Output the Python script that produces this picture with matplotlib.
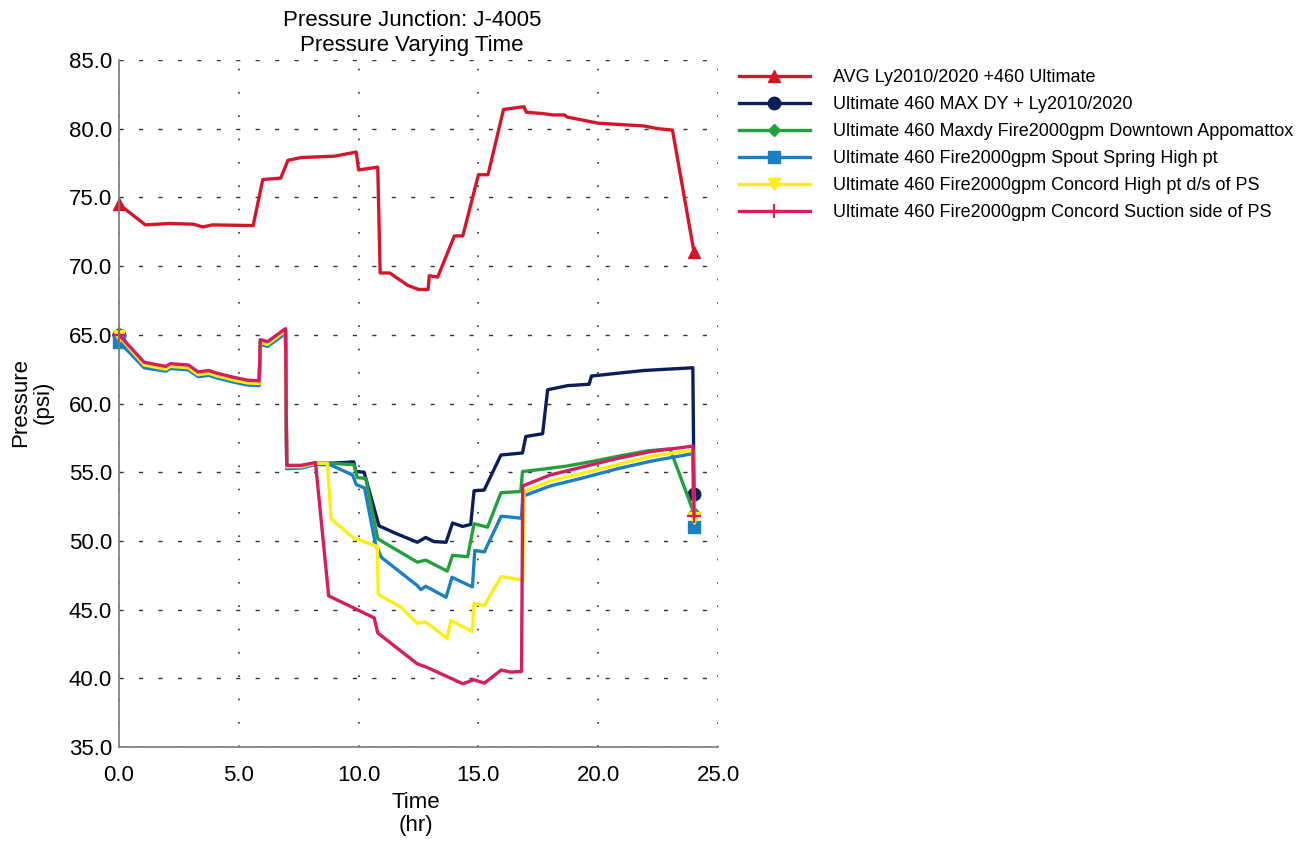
import matplotlib
matplotlib.use('Agg')
import matplotlib.pyplot as plt
from matplotlib.lines import Line2D
from matplotlib import font_manager

# --- data (time in hr, pressure in psi) ---
labels = ['AVG Ly2010/2020 +460 Ultimate',
          'Ultimate 460 MAX DY + Ly2010/2020',
          'Ultimate 460 Maxdy Fire2000gpm Downtown Appomattox',
          'Ultimate 460 Fire2000gpm Spout Spring High pt',
          'Ultimate 460 Fire2000gpm Concord High pt d/s of PS',
          'Ultimate 460 Fire2000gpm Concord Suction side of PS']

t_avg = [0, 1.1, 2.1, 3.1, 3.5, 3.9, 5.6, 6.0, 6.75, 7.05, 7.6, 9.0, 9.9, 10.0, 10.8, 10.9, 11.3,
         12.05, 12.5, 12.9, 12.95, 13.3, 14.0, 14.35, 15.0, 15.4, 16.05, 16.9, 17.0, 17.7, 18.1,
         18.6, 18.7, 20.0, 21.9, 22.5, 23.1, 24.0]
p_avg = [74.5, 73.0, 73.1, 73.05, 72.85, 73.0, 72.95, 76.3, 76.4, 77.7, 77.9, 78.0, 78.3, 77.0,
         77.2, 69.5, 69.5, 68.6, 68.3, 68.3, 69.3, 69.2, 72.2, 72.2, 76.65, 76.65, 81.4, 81.6,
         81.2, 81.1, 81.0, 81.0, 80.85, 80.4, 80.2, 80.0, 79.9, 71.0]

t_maxdy = [0, 1.05, 1.95, 2.15, 2.9, 3.3, 3.75, 4.1, 4.8, 5.35, 5.85, 5.9, 6.2, 6.95, 7.0, 7.6,
           8.2, 8.8, 9.8, 9.88, 10.23, 10.85, 11.48, 12.45, 12.8, 13.15, 13.65, 13.92, 14.34,
           14.68, 14.82, 15.24, 15.94, 16.84, 16.98, 17.68, 17.89, 18.72, 19.62, 19.72, 20.8,
           21.9, 22.9, 23.95, 24.0]
p_maxdy = [64.95, 62.9, 62.6, 62.8, 62.7, 62.2, 62.3, 62.1, 61.8, 61.6, 61.55, 64.55, 64.4, 65.35,
           55.4, 55.45, 55.65, 55.65, 55.75, 55.05, 55.0, 51.1, 50.6, 49.9, 50.25, 49.95, 49.9,
           51.3, 51.05, 51.2, 53.65, 53.7, 56.25, 56.4, 57.6, 57.8, 61.0, 61.3, 61.4, 62.0, 62.2,
           62.4, 62.5, 62.6, 53.4]

t_down = [0, 1.05, 1.95, 2.15, 2.9, 3.3, 3.75, 4.1, 4.8, 5.35, 5.85, 5.9, 6.2, 6.95, 7.0, 7.6,
          8.2, 8.8, 9.8, 9.95, 10.3, 10.8, 12.45, 12.8, 13.7, 13.92, 14.55, 14.82, 15.38, 15.94,
          16.77, 16.84, 17.6, 18.7, 19.8, 20.95, 22.05, 23.0, 24.0]
p_down = [64.95, 62.9, 62.6, 62.8, 62.7, 62.2, 62.3, 62.1, 61.8, 61.6, 61.55, 64.55, 64.4, 65.35,
          55.4, 55.45, 55.65, 55.65, 55.55, 54.6, 54.55, 50.15, 48.45, 48.6, 47.8, 48.95, 48.85,
          51.25, 51.0, 53.5, 53.6, 55.05, 55.2, 55.45, 55.8, 56.2, 56.55, 56.7, 52.0]

t_spout = [0, 1.05, 1.95, 2.15, 2.9, 3.3, 3.75, 4.1, 4.8, 5.35, 5.85, 5.9, 6.2, 6.95, 7.0, 7.6,
           8.2, 8.8, 9.75, 9.9, 10.25, 10.7, 10.95, 12.45, 12.6, 12.8, 13.65, 13.9, 14.75, 14.85,
           15.25, 15.95, 16.8, 16.85, 18.0, 19.4, 20.8, 22.2, 23.95, 24.0]
p_spout = [64.5, 62.6, 62.35, 62.55, 62.45, 61.95, 62.05, 61.85, 61.55, 61.35, 61.3, 64.3, 64.15,
           65.1, 55.25, 55.3, 55.55, 55.55, 54.8, 54.1, 53.85, 49.8, 48.8, 46.75, 46.45, 46.7,
           45.9, 47.35, 46.65, 49.3, 49.2, 51.8, 51.65, 53.25, 54.0, 54.6, 55.25, 55.8, 56.35, 51.0]

t_high = [0, 1.05, 1.95, 2.15, 2.9, 3.3, 3.75, 4.1, 4.8, 5.35, 5.85, 5.9, 6.2, 6.95, 7.0, 7.6,
          8.2, 8.7, 8.85, 9.8, 10.78, 10.82, 11.75, 12.45, 12.8, 13.7, 13.85, 14.75, 14.82, 15.25,
          15.95, 16.7, 16.85, 16.9, 18.0, 19.4, 20.8, 22.2, 23.95, 24.0]
p_high = [64.9, 62.8, 62.5, 62.7, 62.6, 62.1, 62.2, 62.0, 61.7, 61.5, 61.45, 64.45, 64.3, 65.3,
          55.4, 55.4, 55.65, 55.65, 51.6, 50.2, 49.6, 46.1, 45.2, 44.0, 44.1, 42.9, 44.2, 43.4,
          45.45, 45.3, 47.4, 47.2, 47.1, 53.6, 54.35, 54.95, 55.55, 56.15, 56.6, 51.7]

t_suct = [0, 1.05, 1.95, 2.15, 2.9, 3.3, 3.75, 4.1, 4.8, 5.35, 5.85, 5.9, 6.2, 6.95, 7.0, 7.6,
          8.2, 8.75, 10.65, 10.8, 12.45, 12.85, 14.35, 14.8, 15.25, 15.95, 16.35, 16.8, 16.85,
          18.0, 19.4, 20.8, 22.2, 23.95, 24.0]
p_suct = [65.0, 63.0, 62.7, 62.9, 62.8, 62.3, 62.4, 62.2, 61.9, 61.7, 61.65, 64.65, 64.5, 65.45,
          55.5, 55.5, 55.7, 46.0, 44.4, 43.3, 41.05, 40.8, 39.6, 39.9, 39.65, 40.6, 40.45, 40.5,
          54.0, 54.8, 55.4, 56.0, 56.5, 56.9, 51.8]

series = [(t_avg, p_avg), (t_maxdy, p_maxdy), (t_down, p_down),
          (t_spout, p_spout), (t_high, p_high), (t_suct, p_suct)]
colors = ['#d5162a', '#0b1d5a', '#23a03c', '#1b80c2', '#fbee18', '#d41f5e']
markers = ['^', 'o', 'D', 's', 'v', '+']
msizes = [9, 9, 6, 9, 9, 10]

names = {f.name for f in font_manager.fontManager.ttflist}
if 'Liberation Sans Narrow' in names:
    leg_font = {'family': 'Liberation Sans Narrow', 'size': 15}
else:
    leg_font = {'family': 'Liberation Sans', 'size': 13}
plt.rcParams['font.family'] = ['Liberation Sans', 'DejaVu Sans']

W, H = 1310, 842
fig = plt.figure(figsize=(W / 100, H / 100), dpi=100)
ax = fig.add_axes([119 / W, 1 - 747 / H, (718 - 119) / W, (747 - 60) / H])

for (t, p), c, m, ms in zip(series, colors, markers, msizes):
    ax.plot(t, p, color=c, lw=2.4, marker=m, markersize=ms, markevery=[0, -1],
            markeredgewidth=1.6 if m == '+' else 1.0, clip_on=False)

ax.set_xlim(0, 25)
ax.set_ylim(35, 85)
ax.set_xticks([0, 5, 10, 15, 20, 25])
ax.set_yticks([35, 40, 45, 50, 55, 60, 65, 70, 75, 80, 85])
ax.set_xticklabels(['%.1f' % v for v in ax.get_xticks()], fontsize=16)
ax.set_yticklabels(['%.1f' % v for v in ax.get_yticks()], fontsize=16)
ax.tick_params(axis='x', length=0, pad=13)
ax.tick_params(axis='y', length=0, pad=5)

ax.yaxis.grid(True, color='#333333', lw=1.0, linestyle=(0, (3, 11)))
ax.xaxis.grid(True, color='#333333', lw=1.2, linestyle=(0, (1, 13)))
ax.set_axisbelow(True)
for side in ['top', 'right']:
    ax.spines[side].set_visible(False)
for side in ['left', 'bottom']:
    ax.spines[side].set_color('#7a7a7a')
    ax.spines[side].set_linewidth(1.2)

fig.text(412 / W, 1 - 33 / H, 'Pressure Junction: J-4005\nPressure Varying Time',
         ha='center', va='center', fontsize=16, linespacing=1.2)
fig.text(32 / W, 1 - 402 / H, 'Pressure\n(psi)', ha='center', va='center',
         rotation=90, fontsize=16, linespacing=1.1)
fig.text(416 / W, 1 - 814 / H, 'Time\n(hr)', ha='center', va='center',
         fontsize=16, linespacing=1.15)

handles = [Line2D([], [], color=c, lw=2.4, marker=m, markersize=ms,
                  markeredgewidth=1.6 if m == '+' else 1.0)
           for c, m, ms in zip(colors, markers, msizes)]
fig.legend(handles, labels, loc='upper left', bbox_to_anchor=(732 / W, 1 - 62 / H),
           frameon=False, prop=leg_font, handlelength=3.9, handletextpad=1.3,
           labelspacing=0.55, borderaxespad=0)

fig.savefig('out.png', dpi=100)
